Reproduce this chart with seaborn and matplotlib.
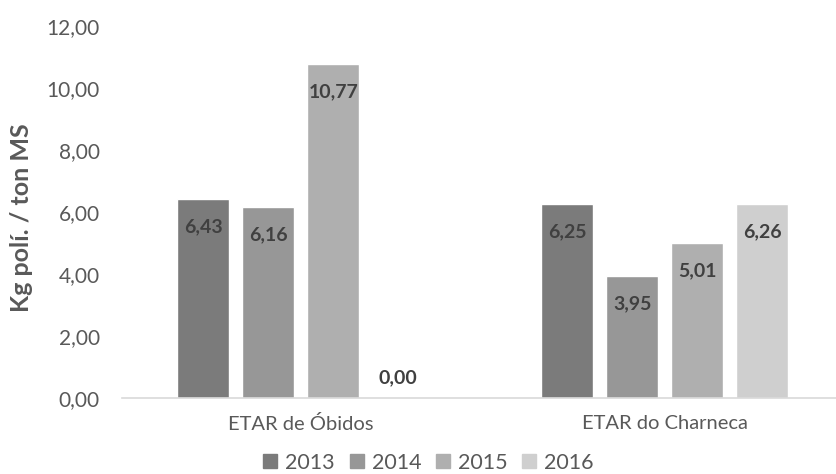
import numpy as np
import pandas as pd
import matplotlib.pyplot as plt
import seaborn as sns

# Data
sites = ['ETAR de Óbidos', 'ETAR do Charneca']
years = ['2013', '2014', '2015', '2016']
vals_2013 = [6.43, 6.25]
vals_2014 = [6.16, 3.95]
vals_2015 = [10.77, 5.01]
vals_2016 = [0.00, 6.26]
yticks = [0, 2, 4, 6, 8, 10, 12]

colors = ['#7b7b7b', '#979797', '#afafaf', '#cfcfcf']

df = pd.DataFrame({
    'site': sites * 4,
    'year': [y for y in years for _ in sites],
    'value': vals_2013 + vals_2014 + vals_2015 + vals_2016,
})

sns.set_style('white')
plt.rcParams['font.family'] = ['Lato', 'DejaVu Sans']

fig = plt.figure(figsize=(8.37, 4.74), dpi=100)
ax = fig.add_axes([0.146, 0.160, 0.854, 0.785])

sns.barplot(data=df, x='site', y='value', hue='year', palette=colors,
            width=0.715, gap=0.2, ax=ax, legend=False, saturation=1)

ax.set_ylim(0, 12)
ax.set_xlim(-0.491, 1.474)
ax.set_yticks(yticks)
ax.set_yticklabels([f'{t:.2f}'.replace('.', ',') for t in yticks])
ax.tick_params(axis='both', length=0, colors='#595959')
ax.tick_params(axis='y', labelsize=15, pad=16)
ax.tick_params(axis='x', labelsize=14.5, pad=12)
ax.set_xlabel('')
ax.set_ylabel('Kg polí. / ton MS', fontsize=18, fontweight='bold', color='#595959')
ax.yaxis.set_label_coords(-0.125, 0.484)

for s in ['top', 'right', 'left']:
    ax.spines[s].set_visible(False)
ax.spines['bottom'].set_color('#d9d9d9')
ax.spines['bottom'].set_linewidth(1.2)

# data labels (inside end, zero shown above axis)
for cont in ax.containers:
    for bar in cont:
        h = bar.get_height()
        x = bar.get_x() + bar.get_width() / 2
        txt = f'{h:.2f}'.replace('.', ',')
        off = -20 if h > 0.5 else 15
        ax.annotate(txt, (x, h), xytext=(0, off), textcoords='offset points',
                    ha='center', va='center', fontsize=14, fontweight='bold', color='#404040')

handles = [plt.Line2D([], [], marker='s', linestyle='', markersize=10, color=c) for c in colors]
fig.legend(handles, years, loc='center', bbox_to_anchor=(0.511, 0.024), ncol=4, frameon=False,
           fontsize=15.5, labelcolor='#595959', handletextpad=0.3, columnspacing=0.6,
           handlelength=0.8)

plt.savefig('out.png', dpi=100)
